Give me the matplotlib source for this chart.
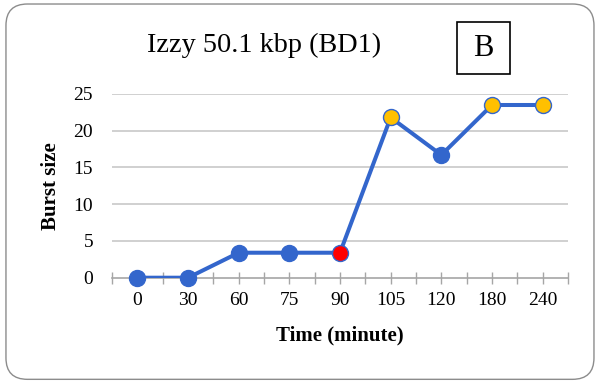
import matplotlib
matplotlib.use("Agg")
import matplotlib.pyplot as plt
from matplotlib.patches import FancyBboxPatch, Rectangle
import numpy as np

categories = ["0", "30", "60", "75", "90", "105", "120", "180", "240"]
burst_size = [0, 0, 3.4, 3.4, 3.4, 21.8, 16.7, 23.5, 23.5]
marker_colors = ["#3366CC", "#3366CC", "#3366CC", "#3366CC", "#FF0000",
                 "#FFC000", "#3366CC", "#FFC000", "#FFC000"]
title = "Izzy 50.1 kbp (BD1)"
panel_label = "B"
xlabel = "Time (minute)"
ylabel = "Burst size"
yticks = [0, 5, 10, 15, 20, 25]

plt.rcParams['font.family'] = ['Liberation Serif', 'DejaVu Serif']

fig = plt.figure(figsize=(5.96, 3.82), dpi=100)
fig.patches.append(FancyBboxPatch((0.010, 0.007), 0.9866, 0.9825,
                                  boxstyle="round,pad=0,rounding_size=0.036",
                                  transform=fig.transFigure, facecolor="none",
                                  edgecolor="#8c8c8c", linewidth=1.0,
                                  mutation_aspect=596/382, zorder=-1))

ax = fig.add_axes([0.188, 0.273, 0.765, 0.481])
ax.set_facecolor("none")
x = np.arange(len(categories))
ax.plot(x, burst_size, color="#3366CC", linewidth=2.9, zorder=3, solid_capstyle="round")
for xi, yi, c in zip(x, burst_size, marker_colors):
    ax.plot(xi, yi, marker="o", markersize=11.5, markerfacecolor=c,
            markeredgecolor="#3366CC", markeredgewidth=1.0, zorder=4, clip_on=False)

ax.set_xlim(-0.5, len(categories) - 0.5)
ax.set_ylim(0, 25)
ax.set_yticks(yticks)
ax.set_xticks(x)
ax.set_xticklabels(categories)
ax.set_xticks(np.arange(-0.5, len(categories), 1.0), minor=True)
ax.tick_params(axis="x", which="both", direction="inout", length=8, width=1,
               color="#a6a6a6", labelsize=14, pad=6)
ax.tick_params(axis="y", length=0, labelsize=14, pad=13.7)
for t in yticks[1:]:
    ax.axhline(t, color="#c8c8c8", linewidth=1.2, zorder=1)
for s in ["top", "right", "left"]:
    ax.spines[s].set_visible(False)
ax.spines["bottom"].set_color("#a6a6a6")
ax.spines["bottom"].set_linewidth(1.2)

ax.set_xlabel(xlabel, fontsize=15, fontweight="bold", labelpad=12)
ax.set_ylabel(ylabel, fontsize=15, fontweight="bold", labelpad=9)

fig.text(0.443, 0.882, title, fontsize=20.3, ha="center", va="center")
fig.patches.append(Rectangle((0.767, 0.805), 0.089, 0.138, transform=fig.transFigure,
                             facecolor="white", edgecolor="black", linewidth=1.2))
fig.text(0.8115, 0.872, panel_label, fontsize=22, ha="center", va="center")

fig.savefig("out.png", dpi=100)
